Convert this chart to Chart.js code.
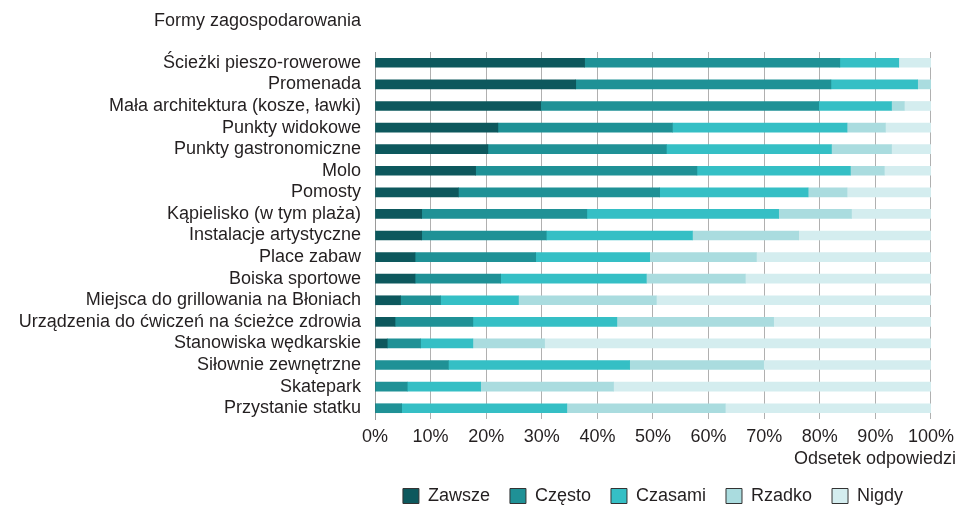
<!DOCTYPE html>
<html lang="pl">
<head>
<meta charset="utf-8">
<title>Formy zagospodarowania</title>
<script src="https://cdn.jsdelivr.net/npm/chart.js@4/dist/chart.umd.min.js"></script>
<style>
  html, body { margin: 0; padding: 0; background: #fff; }
  #wrap { width: 961px; height: 505px; }
</style>
</head>
<body>
<div id="wrap"><canvas id="chart" width="961" height="505"></canvas></div>
<script>
// Kategorie (od góry do dołu) i odsetki odpowiedzi w %
const categories = [
  'Ścieżki pieszo-rowerowe',
  'Promenada',
  'Mała architektura (kosze, ławki)',
  'Punkty widokowe',
  'Punkty gastronomiczne',
  'Molo',
  'Pomosty',
  'Kąpielisko (w tym plaża)',
  'Instalacje artystyczne',
  'Place zabaw',
  'Boiska sportowe',
  'Miejsca do grillowania na Błoniach',
  'Urządzenia do ćwiczeń na ścieżce zdrowia',
  'Stanowiska wędkarskie',
  'Siłownie zewnętrzne',
  'Skatepark',
  'Przystanie statku'
];

const zawsze  = [37.7, 36.1, 29.8, 22.1, 20.3, 18.1, 15.0, 8.4, 8.4, 7.2, 7.2, 4.6, 3.6, 2.2, 0, 0, 0];
const czesto  = [45.9, 45.9, 50.0, 31.4, 32.1, 39.8, 36.2, 29.7, 22.4, 21.7, 15.4, 7.2, 14.0, 6.0, 13.2, 5.8, 4.8];
const czasami = [10.6, 15.6, 13.1, 31.4, 29.7, 27.6, 26.7, 34.5, 26.3, 20.5, 26.2, 14.0, 25.9, 9.4, 32.6, 13.2, 29.7];
const rzadko  = [0, 2.4, 2.3, 6.9, 10.8, 6.1, 7.0, 13.1, 19.1, 19.2, 17.8, 24.8, 28.2, 12.9, 24.1, 23.9, 28.5];
const nigdy   = [5.8, 0, 4.8, 8.2, 7.1, 8.4, 15.1, 14.3, 23.8, 31.4, 33.4, 49.4, 28.3, 69.5, 30.1, 57.1, 37.0];

const xTicks = [0, 10, 20, 30, 40, 50, 60, 70, 80, 90, 100];

const seriesNames  = ['Zawsze', 'Często', 'Czasami', 'Rzadko', 'Nigdy'];
const seriesValues = [zawsze, czesto, czasami, rzadko, nigdy];
const seriesColors = ['#0d585d', '#1f9196', '#35bfc5', '#aadcdf', '#d4edef'];

const FONT = 'Liberation Sans, Arial, Helvetica, sans-serif';
const TEXT = '#231f20';

// Napisy nad osią kategorii i pod osią wartości
const captions = {
  id: 'captions',
  afterDraw(chart) {
    const { ctx, scales } = chart;
    ctx.save();
    ctx.font = '18px ' + FONT;
    ctx.fillStyle = TEXT;
    ctx.textBaseline = 'alphabetic';
    ctx.textAlign = 'right';
    ctx.fillText('Formy zagospodarowania', scales.y.right - 14, 26);
    ctx.fillText('Odsetek odpowiedzi', 956, 464);
    ctx.restore();
  }
};

new Chart(document.getElementById('chart'), {
  type: 'bar',
  data: {
    labels: categories,
    datasets: seriesNames.map((name, i) => ({
      label: name,
      data: seriesValues[i],
      backgroundColor: seriesColors[i],
      borderWidth: 0,
      barThickness: 9
    }))
  },
  options: {
    indexAxis: 'y',
    responsive: false,
    animation: false,
    layout: { padding: { top: 52, right: 27.5, left: 0, bottom: 0 } },
    scales: {
      x: {
        stacked: true,
        min: 0,
        max: 100,
        afterBuildTicks(scale) {
          scale.ticks = xTicks.map(v => ({ value: v }));
        },
        afterFit(scale) { scale.height = 48; },
        grid: { color: '#b0b0b0', lineWidth: 1, drawTicks: false },
        border: { display: false },
        ticks: {
          padding: 7,
          color: TEXT,
          font: { family: FONT, size: 18 },
          callback: v => v + '%'
        }
      },
      y: {
        stacked: true,
        afterFit(scale) { scale.width = 375; },
        grid: { display: false, drawTicks: false },
        border: { display: true, color: '#9a9a9a', width: 1 },
        ticks: {
          autoSkip: false,
          padding: 14,
          color: TEXT,
          font: { family: FONT, size: 18 }
        }
      }
    },
    plugins: {
      tooltip: { enabled: false },
      legend: {
        position: 'bottom',
        fullSize: false,
        maxHeight: 38,
        labels: {
          boxWidth: 16,
          boxHeight: 15,
          padding: 20,
          color: TEXT,
          font: { family: FONT, size: 18 },
          generateLabels(chart) {
            return Chart.defaults.plugins.legend.labels.generateLabels(chart).map(l => ({
              ...l, strokeStyle: '#333', lineWidth: 1
            }));
          }
        }
      }
    }
  },
  plugins: [captions]
});
</script>
</body>
</html>
